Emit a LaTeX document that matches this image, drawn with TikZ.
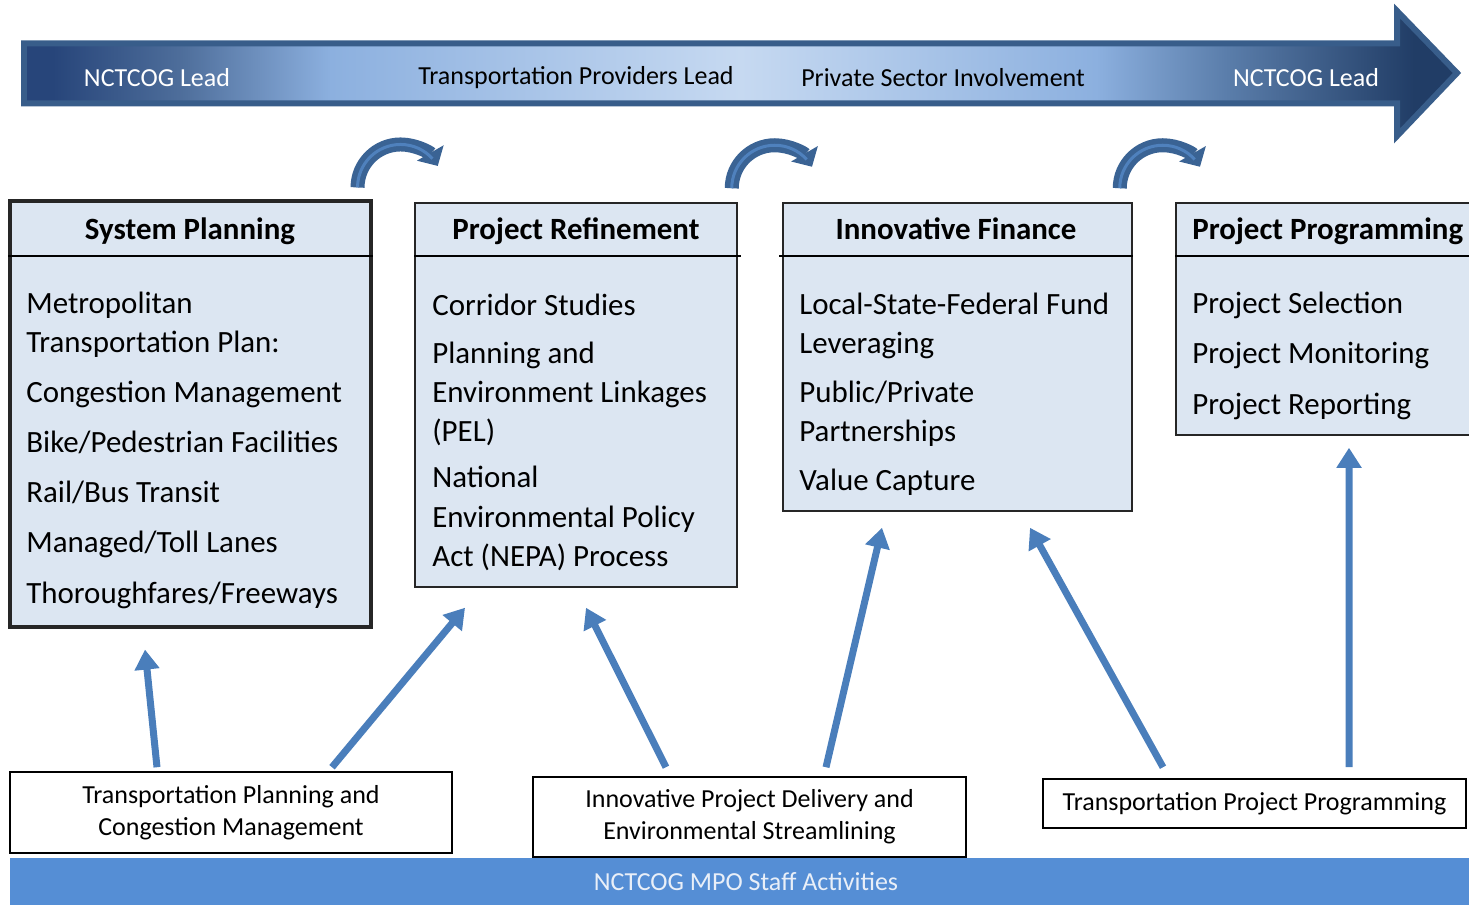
\documentclass[tikz,border=0pt]{standalone}
\usepackage{fontspec}
\setmainfont{Carlito}
\usetikzlibrary{arrows.meta,calc}

\definecolor{panelfill}{HTML}{DCE6F2}
\definecolor{feedblue}{HTML}{4A7EBB}
\definecolor{turndark}{HTML}{3A6394}
\definecolor{turnlight}{HTML}{4F81BD}
\definecolor{bandedge}{HTML}{385D8A}
\definecolor{banddark}{HTML}{27457A}
\definecolor{bandmidl}{HTML}{4E6E9B}
\definecolor{bandsoft}{HTML}{8CB0DF}
\definecolor{bandlight}{HTML}{C6D9F1}
\definecolor{bandmidr}{HTML}{5A7DAA}
\definecolor{bandend}{HTML}{213D66}
\definecolor{staffblue}{HTML}{558ED5}
\definecolor{stafftext}{HTML}{E9EFF8}

\pgfdeclarehorizontalshading{bandshade}{100bp}{color(0bp)=(banddark); color(26bp)=(banddark);
  color(30.5bp)=(bandmidl); color(35.7bp)=(bandsoft); color(50bp)=(bandlight);
  color(62.4bp)=(bandsoft); color(67bp)=(bandmidr); color(73.5bp)=(bandend); color(100bp)=(bandend)}

\begin{document}
\begin{tikzpicture}[x=0.02cm,y=-0.02cm,
  panel/.style={draw=black!85, line width=0.9pt, fill=panelfill, inner sep=0pt},
  ptitle/.style={font=\fontsize{17.6}{22}\selectfont\bfseries, inner sep=0pt, anchor=base},
  pbody/.style={font=\fontsize{17.6}{22.2}\selectfont, align=left, inner sep=0pt, anchor=base west},
  staffbox/.style={draw=black, line width=0.9pt, fill=white, align=center, inner sep=0pt,
    font=\fontsize{14.8}{18.4}\selectfont},
  lead/.style={font=\fontsize{14.8}{18}\selectfont, inner sep=0pt},
  feed/.style={draw=feedblue, line width=0.14cm, -{Triangle[length=0.4cm,width=0.48cm]}},
  turn/.style={draw=turndark, line width=0.28cm, -{Triangle[length=0.3cm,width=0.6cm]}},
  turnline/.style={draw=turnlight, line width=0.06cm}]
\useasboundingbox (0,0) rectangle (1469,905);

\shadedraw[shading=bandshade, draw=bandedge, line width=0.12cm]
  (24,43.5) -- (1397,43.5) -- (1397,11) -- (1457,73) -- (1397,136) -- (1397,103.5) -- (24,103.5) -- cycle;
\node[lead, text=white] (lead1) at (157,78) {NCTCOG Lead};
\node[lead] (lead2) at (576,78) {Transportation Providers Lead};
\node[lead] (lead3) at (943,78) {Private Sector Involvement};
\node[lead, text=white] (lead4) at (1306,78) {NCTCOG Lead};

\node[panel, line width=1.8pt, minimum width=7.22cm, minimum height=8.52cm] (sysplan) at (190.5,414) {};
\draw[line width=0.9pt] (sysplan.west |- 0,256) -- (sysplan.east |- 0,256);
\node[ptitle] (sysplan-t) at (190,240) {System Planning};
\node[pbody] (sysplan-b) at (26,603) {Metropolitan\\Transportation Plan:\\[6.3pt]Congestion Management\\[6.3pt]Bike/Pedestrian Facilities\\[6.3pt]Rail/Bus Transit\\[6.3pt]Managed/Toll Lanes\\[6.3pt]Thoroughfares/Freeways};

\node[panel, minimum width=6.44cm, minimum height=7.68cm] (projref) at (576,395) {};
\draw[line width=0.9pt] (projref.west |- 0,256) -- ([xshift=0.06cm]projref.east |- 0,256);
\node[ptitle] (projref-t) at (576,240) {Project Refinement};
\node[pbody] (projref-b) at (432,566) {Corridor Studies\\[5pt]Planning and\\Environment Linkages\\(PEL)\\[4.5pt]National\\Environmental Policy\\Act (NEPA) Process};

\node[panel, minimum width=6.98cm, minimum height=6.16cm] (innofin) at (957.5,357) {};
\draw[line width=0.9pt] ([xshift=-0.06cm]innofin.west |- 0,256) -- (innofin.east |- 0,256);
\node[ptitle] (innofin-t) at (956,240) {Innovative Finance};
\node[pbody] (innofin-b) at (799,490) {Local-State-Federal Fund\\Leveraging\\[5.5pt]Public/Private\\Partnerships\\[5.5pt]Value Capture};

\node[panel, minimum width=6.08cm, minimum height=4.64cm] (projprog) at (1328,319) {};
\draw[line width=0.9pt] (projprog.west |- 0,256) -- (projprog.east |- 0,256);
\node[ptitle, anchor=base west] (projprog-t) at (1192,240) {Project Programming};
\node[pbody] (projprog-b) at (1192,414) {Project Selection\\[6.3pt]Project Monitoring\\[6.3pt]Project Reporting};

\draw[turn] ($(sysplan.north east)+(-15,-12)$) arc[start angle=180, end angle=330, radius=43];
\draw[turnline] ($(sysplan.north east)+(-15,-12)$) arc[start angle=180, end angle=318, radius=43];
\draw[turn] ($(projref.north east)+(-6,-14)$) arc[start angle=180, end angle=330, radius=43];
\draw[turnline] ($(projref.north east)+(-6,-14)$) arc[start angle=180, end angle=318, radius=43];
\draw[turn] ($(innofin.north east)+(-13,-14)$) arc[start angle=180, end angle=330, radius=43];
\draw[turnline] ($(innofin.north east)+(-13,-14)$) arc[start angle=180, end angle=318, radius=43];

\node[staffbox, minimum width=8.84cm, minimum height=1.62cm] (tpcm) at (231,812.5) {Transportation Planning and\\Congestion Management};
\node[staffbox, minimum width=8.66cm, minimum height=1.6cm] (ipd) at (749.5,817) {Innovative Project Delivery and\\Environmental Streamlining};
\node[staffbox, minimum width=8.46cm, minimum height=0.98cm] (tpp) at (1254.5,803.5) {Transportation Project Programming};
\node[fill=staffblue, text=stafftext, inner sep=0pt, minimum width=29.44cm, minimum height=0.96cm,
  font=\fontsize{14.8}{18}\selectfont] (staff) at (746,882) {NCTCOG MPO Staff Activities};

\draw[feed] ($(tpcm.north)+(-74,-4)$) -- ($(sysplan.south)+(-45.5,21)$);
\draw[feed] ($(tpcm.north)+(101,-4)$) -- ($(projref.south)+(-111,20)$);
\draw[feed] ($(ipd.north)+(-83.5,-9)$) -- ($(projref.south)+(10,20)$);
\draw[feed] ($(ipd.north)+(76.5,-9)$) -- ($(innofin.south)+(-75.5,16)$);
\draw[feed] ($(tpp.north)+(-91.5,-11)$) -- ($(innofin.south)+(72.5,16)$);
\draw[feed] ($(tpp.north)+(94.5,-11)$) -- ($(projprog.south)+(21,12)$);
\end{tikzpicture}
\end{document}
